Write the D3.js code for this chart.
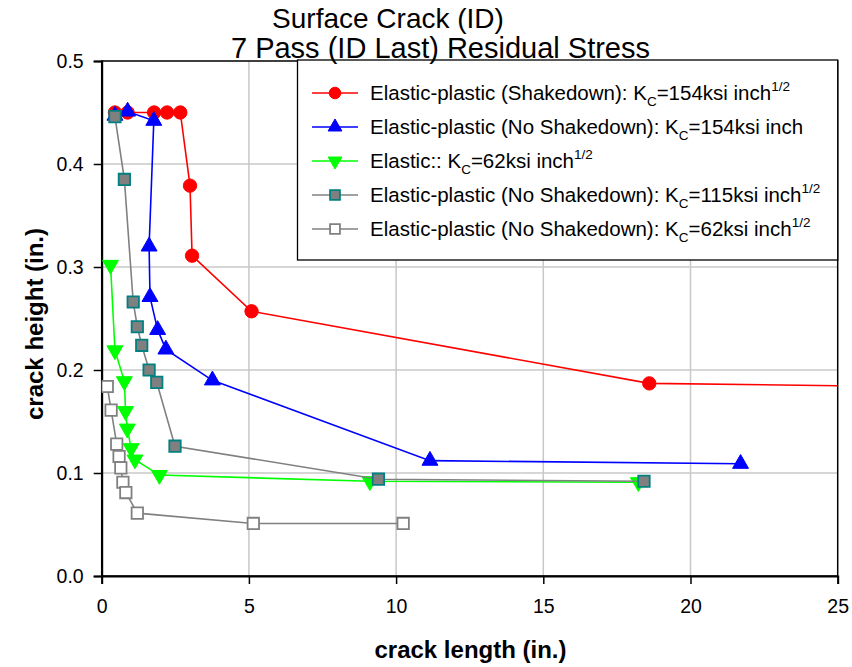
<!DOCTYPE html>
<html>
<head>
<meta charset="utf-8">
<script src="https://cdn.jsdelivr.net/npm/d3@7"></script>
<style>
  body { margin: 0; background: #fff; }
  svg { display: block; font-family: "Liberation Sans", Arial, sans-serif; }
</style>
</head>
<body>
<svg id="chart" width="852" height="667"></svg>
<script>
// Crack growth paths: length (in.) vs height (in.)
const shakedown154X = [0.45, 0.88, 1.78, 2.22, 2.67, 3.0, 3.07, 5.09, 18.6, 27.0];
const shakedown154Y = [0.450, 0.450, 0.450, 0.450, 0.450, 0.379, 0.311, 0.257, 0.187, 0.184];

const noShake154X = [0.45, 0.88, 1.77, 1.61, 1.64, 1.90, 2.18, 3.76, 11.15, 21.7];
const noShake154Y = [0.447, 0.451, 0.442, 0.320, 0.271, 0.239, 0.220, 0.190, 0.112, 0.109];

const elastic62X = [0.30, 0.45, 0.77, 0.81, 0.87, 1.00, 1.13, 1.96, 9.11, 18.23];
const elastic62Y = [0.302, 0.219, 0.189, 0.160, 0.143, 0.124, 0.113, 0.098, 0.092, 0.091];

const noShake115X = [0.45, 0.77, 1.07, 1.21, 1.36, 1.61, 1.87, 2.49, 9.40, 18.42];
const noShake115Y = [0.446, 0.385, 0.266, 0.242, 0.224, 0.200, 0.188, 0.126, 0.094, 0.092];

const noShake62X = [0.19, 0.32, 0.51, 0.59, 0.65, 0.72, 0.82, 1.21, 5.15, 10.24];
const noShake62Y = [0.184, 0.161, 0.128, 0.116, 0.105, 0.091, 0.081, 0.061, 0.051, 0.051];

const xTicks = [0, 5, 10, 15, 20, 25];
const yTicks = [0.0, 0.1, 0.2, 0.3, 0.4, 0.5];

const series = [
  { name: "Elastic-plastic (Shakedown): ", kc: "154", sup: true,  xs: shakedown154X, ys: shakedown154Y,
    line: "#ff0000", marker: "circle", fill: "#ff0000", stroke: "#ff0000" },
  { name: "Elastic-plastic (No Shakedown): ", kc: "154", sup: false, xs: noShake154X, ys: noShake154Y,
    line: "#0000ff", marker: "triangle", fill: "#0000ff", stroke: "#0000ff" },
  { name: "Elastic:: ", kc: "62", sup: true, xs: elastic62X, ys: elastic62Y,
    line: "#00ff00", marker: "down", fill: "#00ff00", stroke: "#00ff00" },
  { name: "Elastic-plastic (No Shakedown): ", kc: "115", sup: true, xs: noShake115X, ys: noShake115Y,
    line: "#808080", marker: "square", fill: "#808080", stroke: "#008080" },
  { name: "Elastic-plastic (No Shakedown): ", kc: "62", sup: true, xs: noShake62X, ys: noShake62Y,
    line: "#808080", marker: "square", fill: "#ffffff", stroke: "#808080" }
];

const svg = d3.select("#chart");
const L = 101.7, R = 837.7, T = 61, B = 576;

const x = d3.scaleLinear().domain([0, 25]).range([L, R]);
const y = d3.scaleLinear().domain([0, 0.5]).range([B, T]);

// gridlines
const grid = svg.append("g");
grid.selectAll(".gx").data(xTicks.slice(1, -1)).join("line")
  .attr("x1", d => x(d)).attr("x2", d => x(d)).attr("y1", T).attr("y2", B)
  .attr("stroke", "#c8c8c8").attr("stroke-width", 1.5);
grid.selectAll(".gy").data(yTicks.slice(1, -1)).join("line")
  .attr("y1", d => y(d)).attr("y2", d => y(d)).attr("x1", L).attr("x2", R)
  .attr("stroke", "#c8c8c8").attr("stroke-width", 1.5);

// plot frame
svg.append("rect").attr("x", L).attr("y", T).attr("width", R - L).attr("height", B - T)
  .attr("fill", "none").attr("stroke", "#000").attr("stroke-width", 1.5);

// axes
const xAxis = svg.append("g").attr("transform", `translate(0,${B})`)
  .call(d3.axisBottom(x).tickValues(xTicks).tickSize(8).tickPadding(15.5).tickFormat(d3.format("d")));
const yAxis = svg.append("g").attr("transform", `translate(${L},0)`)
  .call(d3.axisLeft(y).tickValues(yTicks).tickSize(8).tickPadding(10).tickFormat(d3.format(".1f")));
[xAxis, yAxis].forEach(a => {
  a.select(".domain").attr("stroke", "#000").attr("stroke-width", 2);
  a.selectAll(".tick line").attr("stroke", "#000").attr("stroke-width", 1.5);
  a.selectAll(".tick text").attr("font-size", 19.5).attr("fill", "#000")
    .attr("font-family", "'Liberation Sans', Arial, sans-serif");
});

// clip series to the plot area
svg.append("defs").append("clipPath").attr("id", "plotclip")
  .append("rect").attr("x", L).attr("y", T).attr("width", R - L).attr("height", B - T);

const markerSize = { circle: 140, triangle: 110, down: 110, square: 130 };

function drawMarker(g, s, cx, cy, scale) {
  const size = markerSize[s.marker] * scale;
  const path = d3.symbol().type(
    s.marker === "circle" ? d3.symbolCircle :
    s.marker === "square" ? d3.symbolSquare : d3.symbolTriangle).size(size)();
  g.append("path").attr("d", path)
    .attr("transform", `translate(${cx},${cy})` + (s.marker === "down" ? " rotate(180)" : ""))
    .attr("fill", s.fill).attr("stroke", s.stroke)
    .attr("stroke-width", s.marker === "square" ? 1.8 : 1);
}

const plot = svg.append("g").attr("clip-path", "url(#plotclip)");
const line = d3.line().x(d => x(d[0])).y(d => y(d[1]));

series.forEach(s => {
  const pts = s.xs.map((v, i) => [v, s.ys[i]]);
  const g = plot.append("g");
  g.append("path").datum(pts).attr("d", line)
    .attr("fill", "none").attr("stroke", s.line).attr("stroke-width", 1.6);
  pts.filter(p => p[0] <= 25).forEach(p => drawMarker(g, s, x(p[0]), y(p[1]), 1));
});

// legend
const lg = svg.append("g");
lg.append("rect").attr("x", 297.5).attr("y", 60).attr("width", R - 297.5).attr("height", 200)
  .attr("fill", "#fff").attr("stroke", "#000").attr("stroke-width", 1.3);
series.forEach((s, i) => {
  const cy = 93 + i * 34;
  lg.append("line").attr("x1", 312).attr("x2", 358).attr("y1", cy).attr("y2", cy)
    .attr("stroke", s.line).attr("stroke-width", 1.6);
  drawMarker(lg, s, 335, cy, 0.75);
  const t = lg.append("text").attr("x", 370).attr("y", cy + 7)
    .attr("font-size", 20.5).attr("fill", "#000");
  t.append("tspan").text(s.name + "K");
  t.append("tspan").attr("font-size", 13.5).attr("dy", 6).text("C");
  t.append("tspan").attr("dy", -6).text("=" + s.kc + "ksi inch");
  if (s.sup) t.append("tspan").attr("font-size", 13.5).attr("dy", -9).text("1/2");
});

// titles
svg.append("text").attr("x", 388).attr("y", 28).attr("text-anchor", "middle")
  .attr("font-size", 28).attr("fill", "#000").text("Surface Crack (ID)");
svg.append("text").attr("x", 650).attr("y", 57.5).attr("text-anchor", "end")
  .attr("font-size", 29).attr("fill", "#000").text("7 Pass (ID Last) Residual Stress");

// axis titles
svg.append("text").attr("x", 470.5).attr("y", 658).attr("text-anchor", "middle")
  .attr("font-size", 24).attr("font-weight", "bold").attr("fill", "#000").text("crack length (in.)");
svg.append("text").attr("transform", "translate(43.3,324) rotate(-90)")
  .attr("text-anchor", "middle")
  .attr("font-size", 24).attr("font-weight", "bold").attr("fill", "#000").text("crack height (in.)");
</script>
</body>
</html>
